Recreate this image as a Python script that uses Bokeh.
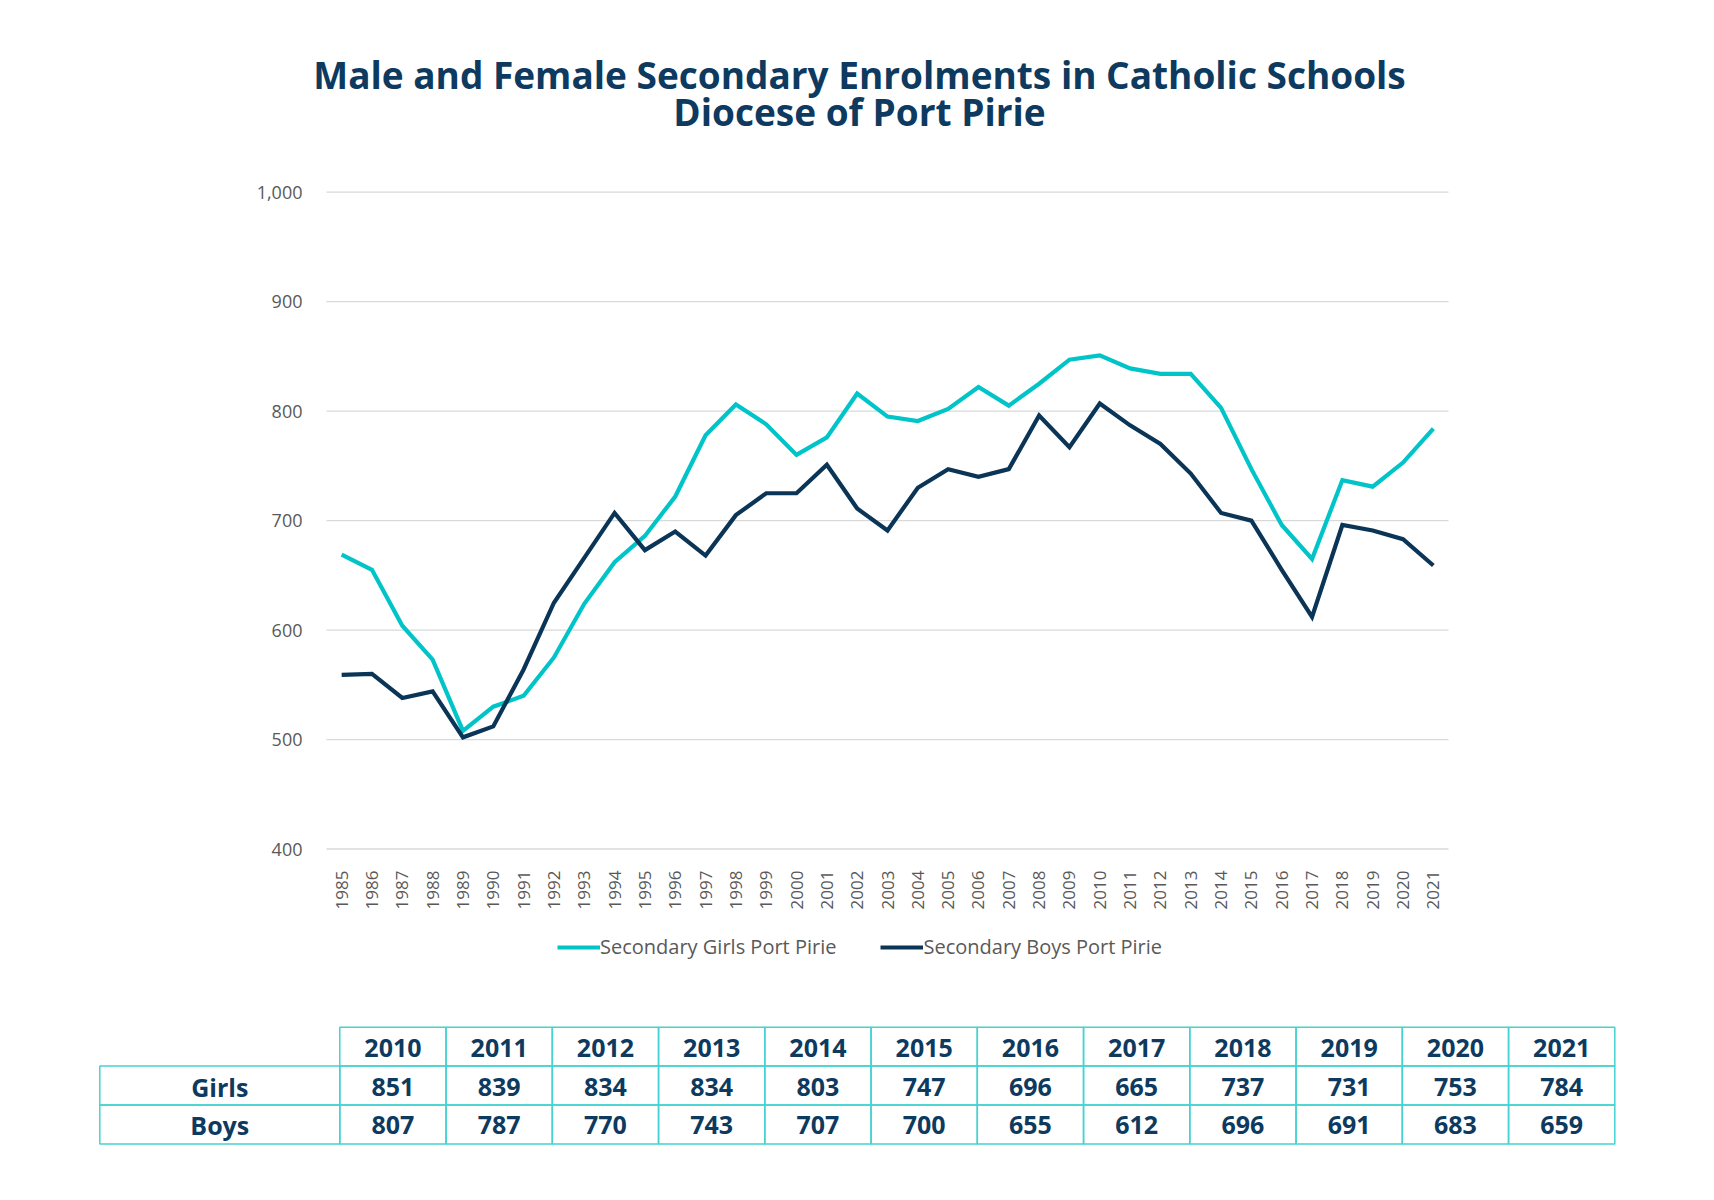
import math
from bokeh.plotting import figure
from bokeh.models import (Range1d, FixedTicker, NumeralTickFormatter, Legend, LegendItem,
                          ColumnDataSource)
from bokeh.layouts import column
from bokeh.core.properties import value
from bokeh.embed import file_html
from bokeh.resources import INLINE

# ---------------- data ----------------
years = list(range(1985, 2022))
girls = [669, 655, 604, 573, 508, 530, 540, 575, 624, 662, 686, 722, 778, 806, 788, 760,
         776, 816, 795, 791, 802, 822, 805, 825, 847, 851, 839, 834, 834, 803, 747, 696,
         665, 737, 731, 753, 784]
boys = [559, 560, 538, 544, 502, 512, 564, 625, 666, 707, 673, 690, 668, 705, 725, 725,
        751, 711, 691, 730, 747, 740, 747, 796, 767, 807, 787, 770, 743, 707, 700, 655,
        612, 696, 691, 683, 659]
y_ticks = [400, 500, 600, 700, 800, 900, 1000]
series_names = ["Secondary Girls Port Pirie", "Secondary Boys Port Pirie"]

table_years = [2010, 2011, 2012, 2013, 2014, 2015, 2016, 2017, 2018, 2019, 2020, 2021]
table_girls = [851, 839, 834, 834, 803, 747, 696, 665, 737, 731, 753, 784]
table_boys = [807, 787, 770, 743, 707, 700, 655, 612, 696, 691, 683, 659]
row_labels = ["Girls", "Boys"]

title_lines = ["Male and Female Secondary Enrolments in Catholic Schools",
               "Diocese of Port Pirie"]

# ---------------- styles / layout (page pixel coordinates) ----------------
CYAN = "#00C4C8"
NAVY = "#0B3557"
TITLE_C = "#0D3A5E"
GREY = "#595959"
BORDER = "#45D2D2"
FONT = "Open Sans"
LW = 4.2

W = 1698
H0, H1 = 150, 765
H2 = 1184 - H0 - H1
BL, BR = 80, 60                        # side borders (shared by all figures)
FRAME_L, FRAME_R = BL, W - BR
CH_L, CH_R = 326, 1448                 # chart plotting area (x)
CH_T, CH_B = 191.7, 848.5              # chart plotting area (y)
FT, FB = 172, 864                      # chart frame edges (y)
TITLE_X, TITLE_Y0, TITLE_DY = 859, 74, 36.6

def blank(fig):
    fig.axis.visible = False
    fig.grid.visible = False
    fig.outline_line_color = None

# ---------------- title figure ----------------
f0 = figure(width=W, height=H0, output_backend="svg", toolbar_location=None,
            x_range=Range1d(FRAME_L, FRAME_R), y_range=Range1d(H0, 0),
            min_border_left=BL, min_border_right=BR, min_border_top=0, min_border_bottom=0)
blank(f0)
f0.text(x=[TITLE_X] * len(title_lines),
        y=[TITLE_Y0 + i * TITLE_DY for i in range(len(title_lines))],
        text=title_lines, text_align="center", text_baseline="middle",
        text_font=value(FONT), text_font_size="37px", text_font_style="bold",
        text_color=TITLE_C)

# ---------------- chart figure ----------------
X0, X1 = min(years) - 0.5, max(years) + 0.5
Y0, Y1 = min(y_ticks), max(y_ticks)
pxu = (CH_R - CH_L) / (X1 - X0)
pyu = (CH_B - CH_T) / (Y1 - Y0)
xr = Range1d(X0 - (CH_L - FRAME_L) / pxu, X1 + (FRAME_R - CH_R) / pxu)
yr = Range1d(Y0 - (FB - CH_B) / pyu, Y1 + (CH_T - FT) / pyu)

p = figure(width=W, height=H1, output_backend="svg", toolbar_location=None,
           x_range=xr, y_range=yr,
           min_border_left=BL, min_border_right=BR, min_border_top=FT - H0,
           min_border_bottom=H0 + H1 - FB)
p.outline_line_color = None
p.grid.visible = False

p.segment(x0=[X0] * len(y_ticks), y0=y_ticks, x1=[X1] * len(y_ticks), y1=y_ticks,
          line_color="#D9D9D9", line_width=1.3)

p.line(years, girls, line_color=CYAN, line_width=LW, line_join="miter")
p.line(years, boys, line_color=NAVY, line_width=LW, line_join="miter")

p.yaxis.ticker = FixedTicker(ticks=y_ticks)
p.yaxis.formatter = NumeralTickFormatter(format="0,0")
p.yaxis.fixed_location = X0
p.xaxis.ticker = FixedTicker(ticks=years)
p.xaxis.major_label_orientation = math.pi / 2
for ax in (p.xaxis[0], p.yaxis[0]):
    ax.axis_line_color = None
    ax.major_tick_line_color = None
    ax.minor_tick_line_color = None
    ax.major_label_text_color = GREY
    ax.major_label_text_font = FONT
p.yaxis.major_label_text_font_size = "18px"
p.yaxis.major_label_standoff = 18
p.xaxis.major_label_text_font_size = "17px"
p.xaxis.major_label_standoff = 0

# ---------------- legend + table figure ----------------
Y_TOP_T = H0 + H1
Y_BOT_T = H0 + H1 + H2
t = figure(width=W, height=H2, output_backend="svg", toolbar_location=None,
           x_range=Range1d(FRAME_L, FRAME_R), y_range=Range1d(Y_BOT_T, Y_TOP_T),
           min_border_left=BL, min_border_right=BR, min_border_top=0, min_border_bottom=0)
blank(t)

# legend samples: the same series, hidden here (they are drawn in the chart above)
lg_g = t.line(years, girls, line_color=CYAN, line_width=LW, visible=False)
lg_b = t.line(years, boys, line_color=NAVY, line_width=LW, visible=False)
LEG_L, LEG_BOTTOM = 557, 960
legend = Legend(items=[LegendItem(label=series_names[0], renderers=[lg_g]),
                       LegendItem(label=series_names[1], renderers=[lg_b])],
                orientation="horizontal",
                location=(LEG_L - FRAME_L, Y_BOT_T - LEG_BOTTOM))
legend.border_line_color = None
legend.background_fill_alpha = 0
legend.inactive_fill_alpha = 0
legend.label_text_font = FONT
legend.label_text_font_size = "20px"
legend.label_text_color = GREY
legend.glyph_width = 43
legend.glyph_height = 20
legend.label_standoff = 0
legend.spacing = 44
legend.padding = 0
legend.margin = 0
t.add_layout(legend, "center")

TOP = 1026.7
RH = 38.9
LX0 = 99.3
LX1 = 339.3
CW = (1614.3 - LX1) / len(table_years)

n = len(table_years)
cells = dict(left=[], right=[], top=[], bottom=[])
for row in range(3):
    for i in range(n):
        cells["left"].append(LX1 + i * CW)
        cells["right"].append(LX1 + (i + 1) * CW)
        cells["top"].append(TOP + row * RH)
        cells["bottom"].append(TOP + (row + 1) * RH)
for row in (1, 2):
    cells["left"].append(LX0)
    cells["right"].append(LX1)
    cells["top"].append(TOP + row * RH)
    cells["bottom"].append(TOP + (row + 1) * RH)
t.quad(source=ColumnDataSource(cells), fill_alpha=0, line_color=BORDER, line_width=1.5)

txt = dict(x=[], y=[], s=[])
for row, vals in enumerate([table_years, table_girls, table_boys]):
    for i, v in enumerate(vals):
        txt["x"].append(LX1 + (i + 0.5) * CW)
        txt["y"].append(TOP + (row + 0.5) * RH + 1)
        txt["s"].append(str(v))
for row, lab in enumerate(row_labels, start=1):
    txt["x"].append((LX0 + LX1) / 2)
    txt["y"].append(TOP + (row + 0.5) * RH + 1)
    txt["s"].append(lab)
t.text(x="x", y="y", text="s", source=ColumnDataSource(txt), text_align="center",
       text_baseline="middle", text_font=value(FONT), text_font_size="25px",
       text_font_style="bold", text_color=TITLE_C)

layout = column(f0, p, t, spacing=0)
open("out.html", "w").write(file_html(layout, INLINE))
